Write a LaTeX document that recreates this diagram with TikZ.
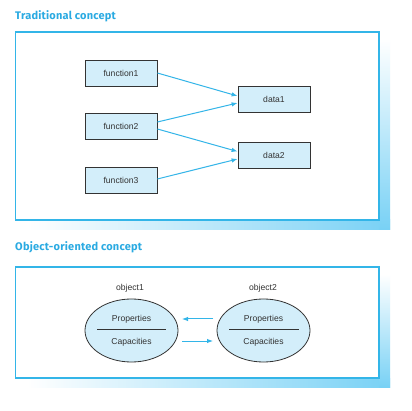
\documentclass[tikz,border=0pt]{standalone}
\usepackage{fontspec}
\setmainfont{Liberation Sans}
\newfontfamily\titlefont{Fira Sans}[LetterSpace=2]
\usetikzlibrary{shapes.geometric,arrows.meta,shadows}
\definecolor{cyanline}{HTML}{33B5E8}
\definecolor{titlecol}{HTML}{2AAAE2}
\definecolor{boxfill}{HTML}{D3EEFA}
\definecolor{shadowc}{HTML}{78D1F5}
\definecolor{textc}{HTML}{333333}
\begin{document}
\begin{tikzpicture}[x=1pt,y=-1pt,
  titletext/.style={anchor=base west, inner sep=0, text=titlecol, font=\titlefont\bfseries\fontsize{11}{13}\selectfont},
  framebox/.style={draw=cyanline, line width=1.3pt, fill=white},
  fbox/.style={draw=textc, line width=0.8pt, fill=boxfill, minimum width=72pt, minimum height=26pt, inner sep=0pt,
    text=textc, font=\fontsize{8.6}{10}\selectfont,
    drop shadow={shadow xshift=0.7pt, shadow yshift=-0.7pt, fill=gray, opacity=0.7}},
  obj/.style={ellipse, draw=textc, line width=0.8pt, fill=boxfill, minimum width=93pt, minimum height=63pt, inner sep=0pt},
  lbl/.style={inner sep=0pt, text=textc, font=\fontsize{8.6}{10}\selectfont},
  arr/.style={draw=cyanline, line width=1pt, -{Latex[length=6pt,width=4.5pt]}},
  divider/.style={draw=textc, line width=0.8pt}
]
\useasboundingbox (0,0) rectangle (412,411);
\fill[white] (0,0) rectangle (412,411);

% ---------- Traditional concept ----------
\node[titletext] (t1) at (15,20) {Traditional concept};
\shade[left color=white, right color=shadowc] (27,220) rectangle (390,230);
\shade[top color=white, bottom color=shadowc] (379,39) rectangle (390,230);
\draw[framebox] (15.5,32) rectangle (379,220);

\node[fbox] (f1) at (121,73) {function1};
\node[fbox] (f2) at (121,126) {function2};
\node[fbox] (f3) at (121,180) {function3};
\node[fbox] (d1) at (274,99.5) {data1};
\node[fbox] (d2) at (274,155) {data2};

\draw[arr] (f1.east) -- ([yshift=3.5pt]d1.west);
\draw[arr] ([yshift=4pt]f2.east) -- ([yshift=-3.5pt]d1.west);
\draw[arr] ([yshift=-3pt]f2.east) -- ([yshift=3.5pt]d2.west);
\draw[arr] ([yshift=1pt]f3.east) -- ([yshift=-4pt]d2.west);

% ---------- Object-oriented concept ----------
\node[titletext] (t2) at (15,251) {Object-oriented concept};
\shade[left color=white, right color=shadowc] (27,378) rectangle (390,387);
\shade[top color=white, bottom color=shadowc] (379,274) rectangle (390,387);
\draw[framebox] (15.5,267) rectangle (379,378);

\node[obj] (o1) at (131.5,330.5) {};
\node[obj] (o2) at (263.5,330.5) {};
\node[lbl] (l1) at (130,288) {object1};
\node[lbl] (l2) at (263,288) {object2};
\node[lbl] (p1) at (131.5,319) {Properties};
\node[lbl] (c1) at (131.5,342) {Capacities};
\node[lbl] (p2) at (263.5,319) {Properties};
\node[lbl] (c2) at (263.5,342) {Capacities};
\draw[divider] (97,329) -- (166,329);
\draw[divider] (229,329) -- (299,329);

\coordinate (a1s) at (213,319);
\coordinate (a1e) at (182,319);
\coordinate (a2s) at (182,341);
\coordinate (a2e) at (213,341);
\draw[arr] (a1s) -- (a1e);
\draw[arr] (a2s) -- (a2e);
\end{tikzpicture}
\end{document}
